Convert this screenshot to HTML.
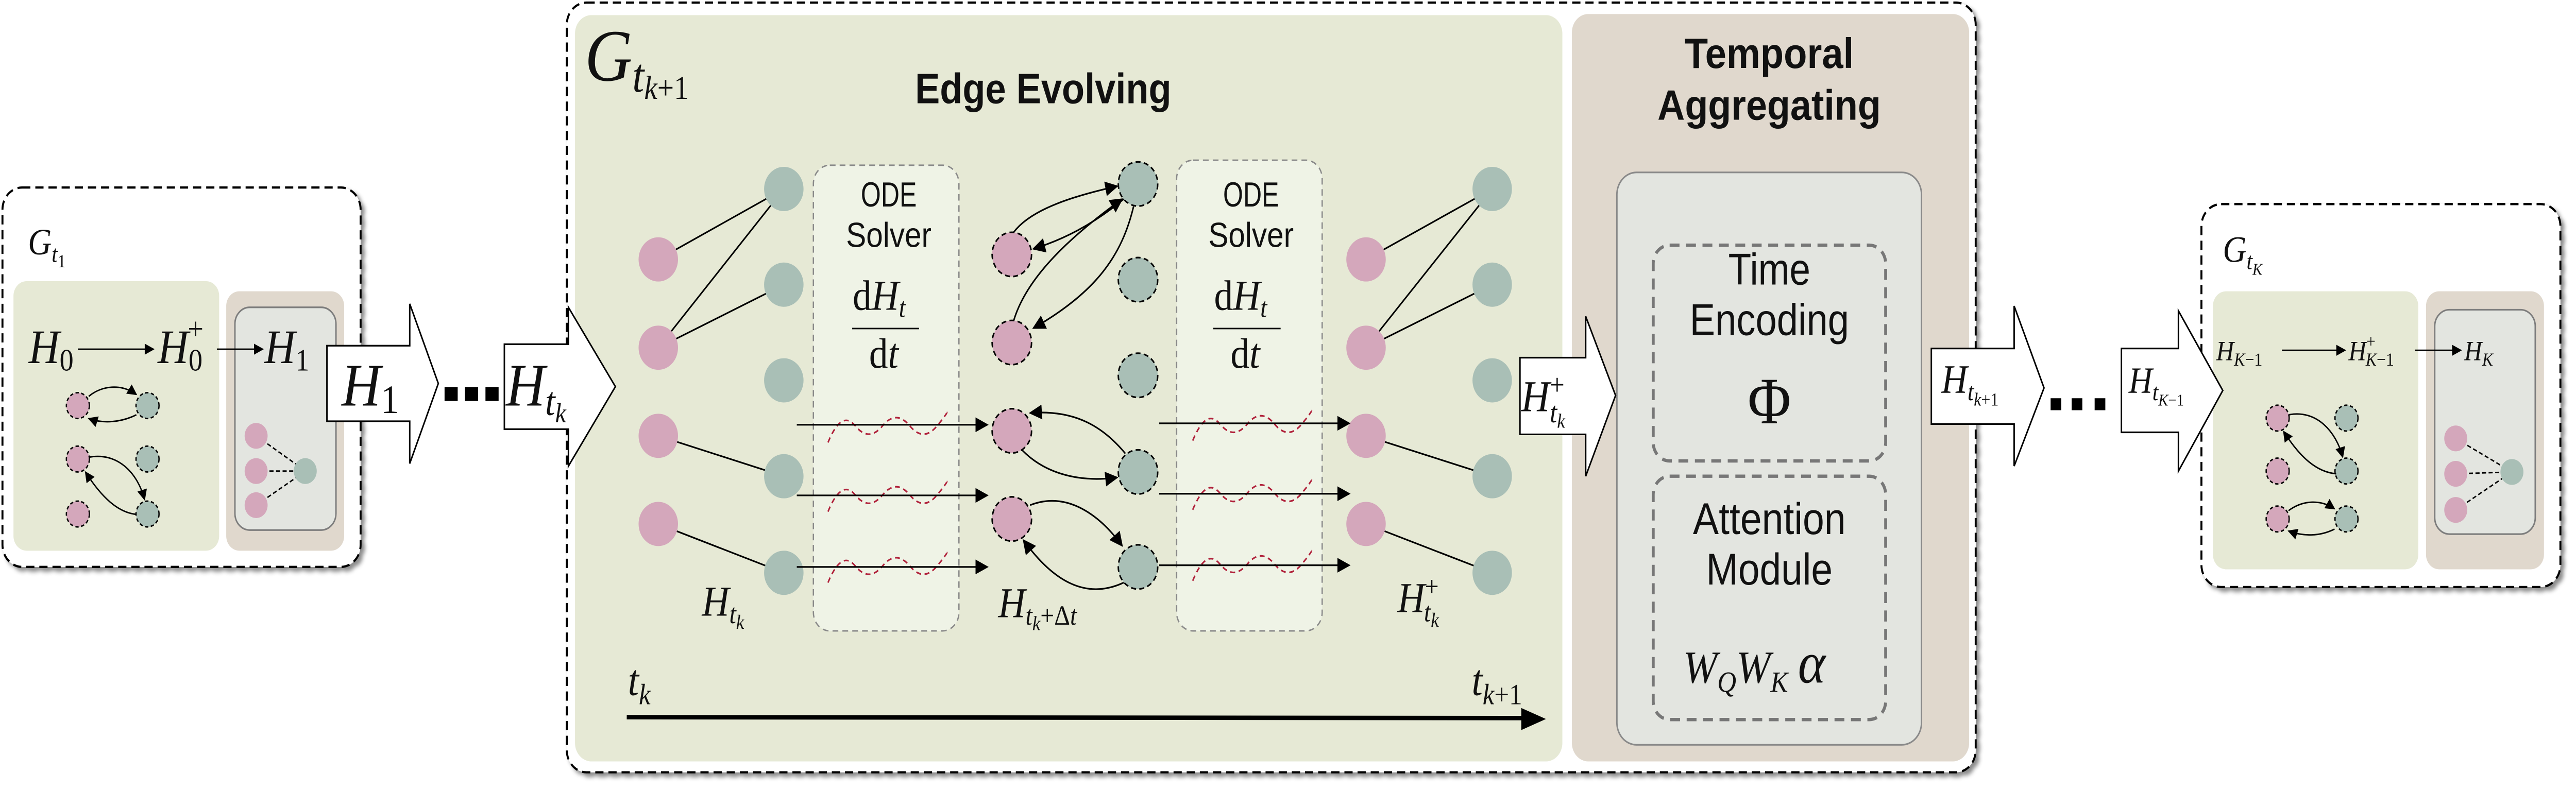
<!DOCTYPE html>
<html><head><meta charset="utf-8"><style>
html,body{margin:0;padding:0;background:#fff;width:100%;height:100%;overflow:hidden;}
svg{display:block;position:absolute;left:0;top:0;width:100vw;height:100vh}
.m{font-family:"Liberation Serif",serif;font-style:italic;fill:#111}
.r{font-family:"Liberation Serif",serif;fill:#111}
.s{font-family:"Liberation Sans",sans-serif;fill:#111}
</style></head><body>
<svg viewBox="0 0 1568 428.5" preserveAspectRatio="none" xmlns="http://www.w3.org/2000/svg">
<defs>
<marker id="ah" viewBox="0 0 10 10" refX="9" refY="5" markerWidth="7" markerHeight="6" markerUnits="userSpaceOnUse" orient="auto"><path d="M0,0 L10,5 L0,10 Z" fill="#000"/></marker>
<marker id="ahb" viewBox="0 0 10 10" refX="9" refY="5" markerWidth="10" markerHeight="8" markerUnits="userSpaceOnUse" orient="auto"><path d="M0,0 L10,5 L0,10 Z" fill="#000"/></marker>
<filter id="sh" x="-5%" y="-5%" width="110%" height="110%"><feDropShadow dx="2" dy="2" stdDeviation="1.2" flood-color="#000" flood-opacity="0.45"/></filter>
</defs>

<rect x="1.5" y="101.7" width="218" height="205.8" rx="12" fill="#fff" stroke="#000" stroke-width="1.2" stroke-dasharray="5,3" filter="url(#sh)"/>
<text class="m" x="17" y="138" font-size="20">G<tspan font-size="13" dy="4">t</tspan><tspan class="r" font-style="normal" font-size="10" dy="3">1</tspan></text>
<rect x="8.2" y="152.5" width="125.2" height="146.2" rx="8" fill="#e6e9d5"/>
<rect x="137.7" y="158" width="71.8" height="140.7" rx="8" fill="#e0d8cd"/>
<rect x="143" y="166.7" width="61.5" height="120.8" rx="9" fill="#e3e5e0" stroke="#7d7d7d" stroke-width="0.9"/>
<text class="m" x="17.5" y="197" font-size="26">H<tspan class="r" font-style="normal" font-size="17" dy="4">0</tspan></text>
<line x1="47.4" y1="189.4" x2="93.5" y2="189.4" stroke="#000" stroke-width="0.8" marker-end="url(#ah)"/>
<text class="m" x="96" y="197" font-size="26">H<tspan class="r" font-style="normal" font-size="17" dy="4">0</tspan><tspan class="r" font-style="normal" font-size="17" dx="-9" dy="-17">+</tspan></text>
<line x1="132" y1="189.4" x2="160" y2="189.4" stroke="#000" stroke-width="0.8" marker-end="url(#ah)"/>
<text class="m" x="161" y="197" font-size="26">H<tspan class="r" font-style="normal" font-size="17" dy="4">1</tspan></text>
<g stroke="#000" stroke-width="0.8" stroke-dasharray="2,1.5">
<circle cx="47.4" cy="220" r="7" fill="#d4a7bb"/><circle cx="89.8" cy="220" r="7" fill="#a9bfb6"/>
<circle cx="47.4" cy="249" r="7" fill="#d4a7bb"/><circle cx="89.8" cy="249" r="7" fill="#a9bfb6"/>
<circle cx="47.4" cy="278.8" r="7" fill="#d4a7bb"/><circle cx="89.8" cy="278.8" r="7" fill="#a9bfb6"/>
</g>
<g fill="none" stroke="#000" stroke-width="0.8">
<path d="M54,215 C62,209 74,208 83,214" marker-end="url(#ah)"/>
<path d="M83,225 C74,229 63,230 54,227" marker-end="url(#ah)"/>
<path d="M54,248 C72,245 84,257 88,271" marker-end="url(#ah)"/>
<path d="M83,279 C72,278 62,270 52,256" marker-end="url(#ah)"/>
<g stroke-dasharray="2.5,1.5"><line x1="156" y1="236.4" x2="186" y2="255.5"/><line x1="156" y1="255.5" x2="186" y2="255.5"/><line x1="156" y1="274" x2="186" y2="255.5"/></g>
</g>
<circle cx="155.9" cy="236.4" r="7" fill="#d4a7bb"/><circle cx="155.9" cy="255.5" r="7" fill="#d4a7bb"/><circle cx="155.9" cy="274" r="7" fill="#d4a7bb"/><circle cx="185.8" cy="255.5" r="7" fill="#a9bfb6"/>

<polygon points="199,187.5 249.4,187.5 249.4,164.8 266.8,208 249.4,251.4 249.4,228.5 199,228.5" fill="#fff" stroke="#000" stroke-width="0.9"/>
<text class="m" x="208" y="220" font-size="33">H<tspan class="r" font-style="normal" font-size="22" dy="4">1</tspan></text>
<rect x="270.6" y="210" width="8" height="7.5" fill="#000"/><rect x="283" y="210" width="8" height="7.5" fill="#000"/><rect x="295.5" y="210" width="8" height="7.5" fill="#000"/>

<rect x="345" y="1.4" width="857.6" height="417.5" rx="12" fill="#fff" stroke="#000" stroke-width="1.2" stroke-dasharray="5,3" filter="url(#sh)"/>
<rect x="350" y="8.2" width="601" height="404.8" rx="10" fill="#e6e9d5"/>
<rect x="956.8" y="7.6" width="241.8" height="405.4" rx="10" fill="#e0d8cd"/>

<polygon points="307,186.7 346,186.7 346,166.7 374.6,209.7 346,252.8 346,232.8 307,232.8" fill="#fff" stroke="#000" stroke-width="0.9"/>
<text class="m" x="308" y="220" font-size="33">H<tspan font-size="22" dy="5">t</tspan><tspan font-size="15" dy="4">k</tspan></text>

<text class="m" x="356" y="43.7" font-size="40">G<tspan font-size="26" dy="6">t</tspan><tspan font-size="18" dy="4">k</tspan><tspan class="r" font-style="normal" font-size="18">+1</tspan></text>
<text class="s" x="635" y="56" font-size="23" font-weight="bold" text-anchor="middle" textLength="156" lengthAdjust="spacingAndGlyphs">Edge Evolving</text>

<rect x="495.1" y="89.6" width="88.6" height="252.6" rx="10" fill="#eff3e6" stroke="#8a8a8a" stroke-width="0.8" stroke-dasharray="3.5,2.5"/>
<rect x="716.2" y="86.9" width="88.6" height="255.3" rx="10" fill="#eff3e6" stroke="#8a8a8a" stroke-width="0.8" stroke-dasharray="3.5,2.5"/>
<g class="s" font-size="19" text-anchor="middle">
<text x="541" y="112" textLength="34" lengthAdjust="spacingAndGlyphs">ODE</text>
<text x="541" y="134" textLength="52" lengthAdjust="spacingAndGlyphs">Solver</text>
<text x="761.5" y="112" textLength="34" lengthAdjust="spacingAndGlyphs">ODE</text>
<text x="761.5" y="134" textLength="52" lengthAdjust="spacingAndGlyphs">Solver</text>
</g>
<g font-size="23">
<text class="r" x="519" y="168">d<tspan font-style="italic">H</tspan><tspan font-style="italic" font-size="15" dy="4">t</tspan></text>
<line x1="518.7" y1="178.2" x2="559.4" y2="178.2" stroke="#000" stroke-width="0.8"/>
<text class="r" x="529" y="199.5">d<tspan font-style="italic">t</tspan></text>
<text class="r" x="739" y="168">d<tspan font-style="italic">H</tspan><tspan font-style="italic" font-size="15" dy="4">t</tspan></text>
<line x1="738.5" y1="178.2" x2="779.5" y2="178.2" stroke="#000" stroke-width="0.8"/>
<text class="r" x="749" y="199.5">d<tspan font-style="italic">t</tspan></text>
</g>

<g stroke="#000" stroke-width="0.9">
<line x1="400.7" y1="140.7" x2="477.1" y2="102.5"/><line x1="400.7" y1="188.6" x2="477.1" y2="102.5"/><line x1="400.7" y1="188.6" x2="477.1" y2="154.4"/><line x1="400.7" y1="236.4" x2="477.1" y2="258.3"/><line x1="400.7" y1="284.2" x2="477.1" y2="310.7"/>
<line x1="831.5" y1="140.7" x2="908.3" y2="102.5"/><line x1="831.5" y1="188.6" x2="908.3" y2="102.5"/><line x1="831.5" y1="188.6" x2="908.3" y2="154.4"/><line x1="831.5" y1="236.4" x2="908.3" y2="258.3"/><line x1="831.5" y1="284.2" x2="908.3" y2="310.7"/>
</g>
<g fill="#d4a7bb">
<circle cx="400.7" cy="140.7" r="12"/><circle cx="400.7" cy="188.6" r="12"/><circle cx="400.7" cy="236.4" r="12"/><circle cx="400.7" cy="284.2" r="12"/>
<circle cx="831.5" cy="140.7" r="12"/><circle cx="831.5" cy="188.6" r="12"/><circle cx="831.5" cy="236.4" r="12"/><circle cx="831.5" cy="284.2" r="12"/>
</g>
<g fill="#a9bfb6">
<circle cx="477.1" cy="102.5" r="12"/><circle cx="477.1" cy="154.4" r="12"/><circle cx="477.1" cy="206.3" r="12"/><circle cx="477.1" cy="258.3" r="12"/><circle cx="477.1" cy="310.7" r="12"/>
<circle cx="908.3" cy="102.5" r="12"/><circle cx="908.3" cy="154.4" r="12"/><circle cx="908.3" cy="206.3" r="12"/><circle cx="908.3" cy="258.3" r="12"/><circle cx="908.3" cy="310.7" r="12"/>
</g>

<g fill="none" stroke="#b0203a" stroke-width="0.9" stroke-dasharray="3,2.2">
<path d="M504,240 q8.3,-18 16.6,-9 t16.6,0 t16.6,0 t16.6,0 t5,-7"/>
<path d="M504,277.5 q8.3,-18 16.6,-9 t16.6,0 t16.6,0 t16.6,0 t5,-7"/>
<path d="M504,316 q8.3,-18 16.6,-9 t16.6,0 t16.6,0 t16.6,0 t5,-7"/>
<path d="M726,239 q8.3,-18 16.6,-9 t16.6,0 t16.6,0 t16.6,0 t5,-7"/>
<path d="M726,276.5 q8.3,-18 16.6,-9 t16.6,0 t16.6,0 t16.6,0 t5,-7"/>
<path d="M726,315 q8.3,-18 16.6,-9 t16.6,0 t16.6,0 t16.6,0 t5,-7"/>
</g>
<g stroke="#000" stroke-width="0.9" marker-end="url(#ahb)">
<line x1="485" y1="230.4" x2="601" y2="230.4"/><line x1="485" y1="268.7" x2="601" y2="268.7"/><line x1="485" y1="307.5" x2="601" y2="307.5"/>
<line x1="705.6" y1="229.6" x2="821.3" y2="229.6"/><line x1="705.6" y1="267.8" x2="821.3" y2="267.8"/><line x1="705.6" y1="306.6" x2="821.3" y2="306.6"/>
</g>

<g stroke="#000" stroke-width="0.9" stroke-dasharray="3,2">
<circle cx="615.9" cy="138" r="12" fill="#d4a7bb"/><circle cx="615.9" cy="185.8" r="12" fill="#d4a7bb"/><circle cx="615.9" cy="233.7" r="12" fill="#d4a7bb"/><circle cx="615.9" cy="281.5" r="12" fill="#d4a7bb"/>
<circle cx="692.7" cy="99.8" r="12" fill="#a9bfb6"/><circle cx="692.7" cy="151.7" r="12" fill="#a9bfb6"/><circle cx="692.7" cy="203.6" r="12" fill="#a9bfb6"/><circle cx="692.7" cy="256" r="12" fill="#a9bfb6"/><circle cx="692.7" cy="307.5" r="12" fill="#a9bfb6"/>
</g>
<g fill="none" stroke="#000" stroke-width="0.9" marker-end="url(#ahb)">
<path d="M617,126 C628,113 655,106 680,101"/>
<path d="M684,108 C665,122 647,130 629,135"/>
<path d="M690,112 C683,138 668,158 629,178"/>
<path d="M617,174 C625,150 652,128 683,108"/>
<path d="M685,246 C672,232 655,222 627,224"/>
<path d="M622,244 C635,256 655,262 680,259"/>
<path d="M627,274 C650,266 670,280 683,296"/>
<path d="M684,316 C660,326 640,314 623,293"/>
</g>

<text class="m" x="427.3" y="334" font-size="23">H<tspan font-size="15" dy="4">t</tspan><tspan font-size="11" dy="3">k</tspan></text>
<text class="m" x="607.6" y="334.8" font-size="23">H<tspan font-size="15" dy="4">t</tspan><tspan font-size="11" dy="3">k</tspan><tspan class="r" font-style="normal" font-size="15" dy="-3">+Δ</tspan><tspan font-size="15">t</tspan></text>
<text class="m" x="850.7" y="332" font-size="23">H<tspan class="r" font-style="normal" font-size="15" dy="-9">+</tspan><tspan font-size="15" dx="-9" dy="14">t</tspan><tspan font-size="11" dy="3">k</tspan></text>
<text class="m" x="382.2" y="377" font-size="24">t<tspan font-size="16" dy="5">k</tspan></text>
<text class="m" x="895.8" y="377" font-size="24">t<tspan font-size="16" dy="5">k</tspan><tspan class="r" font-style="normal" font-size="16">+1</tspan></text>
<line x1="381.5" y1="389" x2="930" y2="389.5" stroke="#000" stroke-width="2.4"/>
<polygon points="926,384 941,390 926,396" fill="#000"/>

<g class="s" font-size="23" font-weight="bold" text-anchor="middle">
<text x="1076.9" y="36.9" textLength="103" lengthAdjust="spacingAndGlyphs">Temporal</text>
<text x="1076.9" y="65" textLength="136" lengthAdjust="spacingAndGlyphs">Aggregating</text>
</g>
<rect x="984.2" y="93.5" width="185.4" height="310.5" rx="12" fill="#e3e5e0" stroke="#8a8a8a" stroke-width="0.9"/>
<rect x="1006.3" y="133" width="141.5" height="117" rx="10" fill="none" stroke="#777" stroke-width="1.8" stroke-dasharray="6,4"/>
<rect x="1006.3" y="258.3" width="141.5" height="132" rx="10" fill="none" stroke="#777" stroke-width="1.8" stroke-dasharray="6,4"/>
<g class="s" font-size="24" text-anchor="middle">
<text x="1077" y="154.4" textLength="50" lengthAdjust="spacingAndGlyphs">Time</text>
<text x="1077" y="181.7" textLength="97" lengthAdjust="spacingAndGlyphs">Encoding</text>
<text x="1077" y="289.7" textLength="93" lengthAdjust="spacingAndGlyphs">Attention</text>
<text x="1077" y="317" textLength="77" lengthAdjust="spacingAndGlyphs">Module</text>
</g>
<text class="r" x="1077" y="229.6" font-size="36" text-anchor="middle">Φ</text>
<text class="m" x="1024.5" y="370.3" font-size="25">W<tspan font-size="16" dy="5">Q</tspan><tspan dy="-5">W</tspan><tspan font-size="16" dy="5">K</tspan><tspan font-size="32" dx="6" dy="-5">α</tspan></text>

<polygon points="925.2,194 965.2,194 965.2,171.6 983.4,214.5 965.2,258.3 965.2,235.6 925.2,235.6" fill="#fff" stroke="#000" stroke-width="0.9"/>
<text class="m" x="926" y="223" font-size="24">H<tspan class="r" font-style="normal" font-size="16" dy="-9">+</tspan><tspan font-size="16" dx="-9" dy="15">t</tspan><tspan font-size="11" dy="3">k</tspan></text>

<polygon points="1175.6,189 1226,189 1226,166 1244.2,210.4 1226,252.8 1226,230 1175.6,230" fill="#fff" stroke="#000" stroke-width="0.9"/>
<text class="m" x="1181.7" y="213" font-size="22">H<tspan font-size="14" dy="4">t</tspan><tspan font-size="10" dy="3">k</tspan><tspan class="r" font-style="normal" font-size="10">+1</tspan></text>
<rect x="1248.2" y="216" width="6.5" height="6.5" fill="#000"/><rect x="1261" y="216" width="6.5" height="6.5" fill="#000"/><rect x="1275" y="216" width="6.5" height="6.5" fill="#000"/>

<rect x="1340" y="110.7" width="218.5" height="207.7" rx="12" fill="#fff" stroke="#000" stroke-width="1.2" stroke-dasharray="5,3" filter="url(#sh)"/>
<rect x="1347" y="158" width="125" height="150.8" rx="8" fill="#e6e9d5"/>
<rect x="1476.7" y="158" width="71.8" height="150.8" rx="8" fill="#e0d8cd"/>
<rect x="1482" y="168" width="61.2" height="121.7" rx="9" fill="#e3e5e0" stroke="#7d7d7d" stroke-width="0.9"/>

<polygon points="1291.3,189 1326,189 1326,168.6 1353,211.8 1326,255.5 1326,234.5 1291.3,234.5" fill="#fff" stroke="#000" stroke-width="0.9"/>
<text class="m" x="1295.7" y="213" font-size="20">H<tspan font-size="13" dy="4">t</tspan><tspan font-size="9" dy="3">K</tspan><tspan class="r" font-style="normal" font-size="9">−1</tspan></text>

<text class="m" x="1353" y="142" font-size="20">G<tspan font-size="13" dy="4">t</tspan><tspan font-size="9" dy="3">K</tspan></text>
<text class="m" x="1349" y="195.4" font-size="15">H<tspan font-size="10" dy="3">K</tspan><tspan class="r" font-style="normal" font-size="10">−1</tspan></text>
<line x1="1389" y1="190" x2="1427.5" y2="190" stroke="#000" stroke-width="0.8" marker-end="url(#ah)"/>
<text class="m" x="1429.5" y="195.4" font-size="15">H<tspan class="r" font-style="normal" font-size="10" dy="-7">+</tspan><tspan font-size="10" dx="-6" dy="10">K</tspan><tspan class="r" font-style="normal" font-size="10">−1</tspan></text>
<line x1="1470" y1="190" x2="1498" y2="190" stroke="#000" stroke-width="0.8" marker-end="url(#ah)"/>
<text class="m" x="1500" y="195.4" font-size="15">H<tspan font-size="10" dy="3">K</tspan></text>
<g stroke="#000" stroke-width="0.8" stroke-dasharray="2,1.5">
<circle cx="1386.4" cy="226.8" r="7" fill="#d4a7bb"/><circle cx="1428.3" cy="226.8" r="7" fill="#a9bfb6"/>
<circle cx="1386.4" cy="255.5" r="7" fill="#d4a7bb"/><circle cx="1428.3" cy="255.5" r="7" fill="#a9bfb6"/>
<circle cx="1386.4" cy="281.5" r="7" fill="#d4a7bb"/><circle cx="1428.3" cy="281.5" r="7" fill="#a9bfb6"/>
</g>
<g fill="none" stroke="#000" stroke-width="0.8">
<path d="M1393,225 C1410,222 1422,234 1426,248" marker-end="url(#ah)"/>
<path d="M1422,257 C1410,256 1400,248 1390,234" marker-end="url(#ah)"/>
<path d="M1393,277 C1402,271 1413,271 1421,276" marker-end="url(#ah)"/>
<path d="M1421,287 C1412,291 1402,291 1393,288" marker-end="url(#ah)"/>
<g stroke-dasharray="2.5,1.5"><line x1="1494.8" y1="237.8" x2="1529" y2="256"/><line x1="1494.8" y1="257" x2="1529" y2="256"/><line x1="1494.8" y1="276.6" x2="1529" y2="256"/></g>
</g>
<circle cx="1494.8" cy="237.8" r="7" fill="#d4a7bb"/><circle cx="1494.8" cy="257" r="7" fill="#d4a7bb"/><circle cx="1494.8" cy="276.6" r="7" fill="#d4a7bb"/><circle cx="1529" cy="256" r="7" fill="#a9bfb6"/>
</svg>
</body></html>
